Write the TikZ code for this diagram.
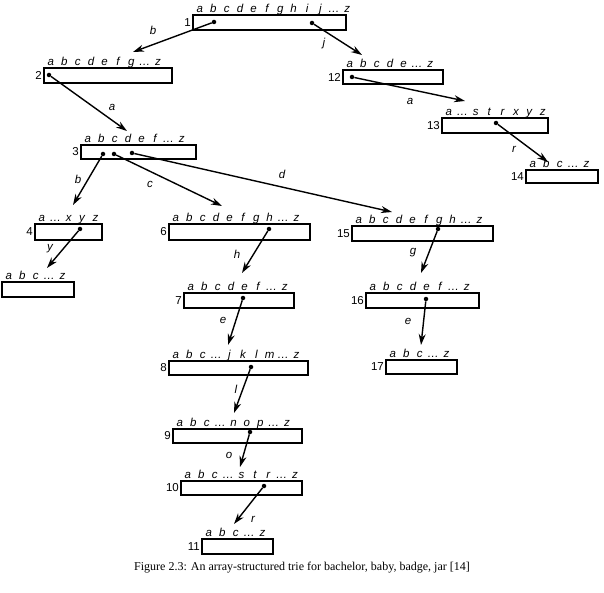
\documentclass[tikz,border=0pt]{standalone}
\usepackage{fontspec}
\setmainfont{Liberation Serif}
\setsansfont{Liberation Sans}
\usetikzlibrary{arrows.meta}
\usetikzlibrary{positioning}
\definecolor{fg}{rgb}{0,0,0}
\tikzstyle{cell}=[draw=fg, line width=1.3pt, inner sep=0pt, outer sep=0pt, anchor=north west]
\tikzstyle{keys}=[inner sep=0pt, text height=8pt, text depth=2pt, font=\sffamily\itshape\fontsize{11.5}{11.5}\selectfont]
\tikzstyle{num}=[inner sep=0pt, font=\sffamily\fontsize{11.5}{11.5}\selectfont]
\tikzstyle{lbl}=[inner sep=0pt, font=\sffamily\itshape\fontsize{11.5}{11.5}\selectfont]
\tikzstyle{knot}=[circle, fill=fg, inner sep=0pt, minimum size=4.5pt]
\tikzstyle{myarrow}=[-{Stealth[length=11pt,width=7pt]}, line width=1.4pt]
\newcommand{\keyrow}[1]{\foreach \ltr in {#1}{\makebox[13.4pt]{\ltr}}}

\begin{document}
\begin{tikzpicture}[x=1pt, y=-1pt]
    \useasboundingbox (0,0) rectangle (604,593);

    \node[cell, minimum width=153pt, minimum height=15pt] (n1) at (193,15) {};
    \node[keys, above right=0pt and 0pt of n1.north west] (k1) {\keyrow{a,b,c,d,e,f,g,h,i,j,\ldots,z}};
    \node[num, left=2pt of n1] (m1) {1};

    \node[cell, minimum width=128pt, minimum height=15pt] (n2) at (44,68) {};
    \node[keys, above right=0pt and 0pt of n2.north west] (k2) {\keyrow{a,b,c,d,e,f,g,\ldots,z}};
    \node[num, left=2pt of n2] (m2) {2};

    \node[cell, minimum width=115pt, minimum height=14pt] (n3) at (81,145) {};
    \node[keys, above right=0pt and 0pt of n3.north west] (k3) {\keyrow{a,b,c,d,e,f,\ldots,z}};
    \node[num, left=2pt of n3] (m3) {3};

    \node[cell, minimum width=67pt, minimum height=16pt] (n4) at (35,224) {};
    \node[keys, above right=0pt and 0pt of n4.north west] (k4) {\keyrow{a,\ldots,x,y,z}};
    \node[num, left=2pt of n4] (m4) {4};

    \node[cell, minimum width=72pt, minimum height=15pt] (n5) at (2,282) {};
    \node[keys, above right=0pt and 0pt of n5.north west] (k5) {\keyrow{a,b,c,\ldots,z}};

    \node[cell, minimum width=141pt, minimum height=16pt] (n6) at (169,224) {};
    \node[keys, above right=0pt and 0pt of n6.north west] (k6) {\keyrow{a,b,c,d,e,f,g,h,\ldots,z}};
    \node[num, left=2pt of n6] (m6) {6};

    \node[cell, minimum width=110pt, minimum height=15pt] (n7) at (184,293) {};
    \node[keys, above right=0pt and 0pt of n7.north west] (k7) {\keyrow{a,b,c,d,e,f,\ldots,z}};
    \node[num, left=2pt of n7] (m7) {7};

    \node[cell, minimum width=139pt, minimum height=14pt] (n8) at (169,361) {};
    \node[keys, above right=0pt and 0pt of n8.north west] (k8) {\keyrow{a,b,c,\ldots,j,k,l,m,\ldots,z}};
    \node[num, left=2pt of n8] (m8) {8};

    \node[cell, minimum width=129pt, minimum height=14pt] (n9) at (173,429) {};
    \node[keys, above right=0pt and 0pt of n9.north west] (k9) {\keyrow{a,b,c,\ldots,n,o,p,\ldots,z}};
    \node[num, left=2pt of n9] (m9) {9};

    \node[cell, minimum width=121pt, minimum height=14pt] (n10) at (181,481) {};
    \node[keys, above right=0pt and 0pt of n10.north west] (k10) {\keyrow{a,b,c,\ldots,s,t,r,\ldots,z}};
    \node[num, left=2pt of n10] (m10) {10};

    \node[cell, minimum width=71pt, minimum height=15pt] (n11) at (202,539) {};
    \node[keys, above right=0pt and 0pt of n11.north west] (k11) {\keyrow{a,b,c,\ldots,z}};
    \node[num, left=2pt of n11] (m11) {11};

    \node[cell, minimum width=100pt, minimum height=14pt] (n12) at (343,70) {};
    \node[keys, above right=0pt and 0pt of n12.north west] (k12) {\keyrow{a,b,c,d,e,\ldots,z}};
    \node[num, left=2pt of n12] (m12) {12};

    \node[cell, minimum width=106pt, minimum height=15pt] (n13) at (442,118) {};
    \node[keys, above right=0pt and 0pt of n13.north west] (k13) {\keyrow{a,\ldots,s,t,r,x,y,z}};
    \node[num, left=2pt of n13] (m13) {13};

    \node[cell, minimum width=72pt, minimum height=13pt] (n14) at (526,170) {};
    \node[keys, above right=0pt and 0pt of n14.north west] (k14) {\keyrow{a,b,c,\ldots,z}};
    \node[num, left=2pt of n14] (m14) {14};

    \node[cell, minimum width=141pt, minimum height=15pt] (n15) at (352,226) {};
    \node[keys, above right=0pt and 0pt of n15.north west] (k15) {\keyrow{a,b,c,d,e,f,g,h,\ldots,z}};
    \node[num, left=2pt of n15] (m15) {15};

    \node[cell, minimum width=113pt, minimum height=15pt] (n16) at (366,293) {};
    \node[keys, above right=0pt and 0pt of n16.north west] (k16) {\keyrow{a,b,c,d,e,f,\ldots,z}};
    \node[num, left=2pt of n16] (m16) {16};

    \node[cell, minimum width=71pt, minimum height=14pt] (n17) at (386,360) {};
    \node[keys, above right=0pt and 0pt of n17.north west] (k17) {\keyrow{a,b,c,\ldots,z}};
    \node[num, left=2pt of n17] (m17) {17};

    \node[knot] (d1b) at (214,22) {};
    \node[knot] (d1j) at (312,23) {};
    \node[knot] (d2a) at (49,75) {};
    \node[knot] (d3b) at (103,154) {};
    \node[knot] (d3c) at (114,154) {};
    \node[knot] (d3d) at (132,153) {};
    \node[knot] (d4y) at (80,229) {};
    \node[knot] (d6h) at (269,229) {};
    \node[knot] (d7e) at (243,298) {};
    \node[knot] (d8l) at (251,367) {};
    \node[knot] (d9o) at (250,432) {};
    \node[knot] (d10r) at (264,486) {};
    \node[knot] (d12a) at (352,77) {};
    \node[knot] (d13r) at (496,123) {};
    \node[knot] (d15g) at (438,229) {};
    \node[knot] (d16e) at (426,299) {};

    \coordinate (t2) at (133,52);
    \coordinate (t12) at (362,55);
    \coordinate (t3) at (127,131);
    \coordinate (t13) at (465,101);
    \coordinate (t14) at (548,162);
    \coordinate (t4) at (73,205);
    \coordinate (t6) at (222,206);
    \coordinate (t15) at (392,212);
    \coordinate (t5) at (47,268);
    \coordinate (t7) at (242,273);
    \coordinate (t16) at (421,273);
    \coordinate (t8) at (228,345);
    \coordinate (t17) at (421,345);
    \coordinate (t9) at (234,413);
    \coordinate (t10) at (240,467);
    \coordinate (t11) at (234,524);

    \draw[myarrow] (d1b) -- (t2);
    \draw[myarrow] (d1j) -- (t12);
    \draw[myarrow] (d2a) -- (t3);
    \draw[myarrow] (d12a) -- (t13);
    \draw[myarrow] (d13r) -- (t14);
    \draw[myarrow] (d3b) -- (t4);
    \draw[myarrow] (d3c) -- (t6);
    \draw[myarrow] (d3d) -- (t15);
    \draw[myarrow] (d4y) -- (t5);
    \draw[myarrow] (d6h) -- (t7);
    \draw[myarrow] (d15g) -- (t16);
    \draw[myarrow] (d7e) -- (t8);
    \draw[myarrow] (d16e) -- (t17);
    \draw[myarrow] (d8l) -- (t9);
    \draw[myarrow] (d9o) -- (t10);
    \draw[myarrow] (d10r) -- (t11);

    \node[lbl] (e2) at (153,30) {b};
    \node[lbl] (e12) at (324,44) {j};
    \node[lbl] (e3) at (112,107) {a};
    \node[lbl] (e13) at (410,101) {a};
    \node[lbl] (e14) at (514,149) {r};
    \node[lbl] (e4) at (78,179) {b};
    \node[lbl] (e6) at (150,184) {c};
    \node[lbl] (e15) at (282,174) {d};
    \node[lbl] (e5) at (50,249) {y};
    \node[lbl] (e7) at (237,254) {h};
    \node[lbl] (e16) at (413,253) {g};
    \node[lbl] (e8) at (223,320) {e};
    \node[lbl] (e17) at (408,321) {e};
    \node[lbl] (e9) at (236,389) {l};
    \node[lbl] (e10) at (229,455) {o};
    \node[lbl] (e11) at (253,519) {r};

    \node[font=\fontsize{12}{14}\selectfont, anchor=base] (cap) at (302,570)
        {Figure 2.3: An array-structured trie for bachelor, baby, badge, jar [14]};
\end{tikzpicture}
\end{document}
